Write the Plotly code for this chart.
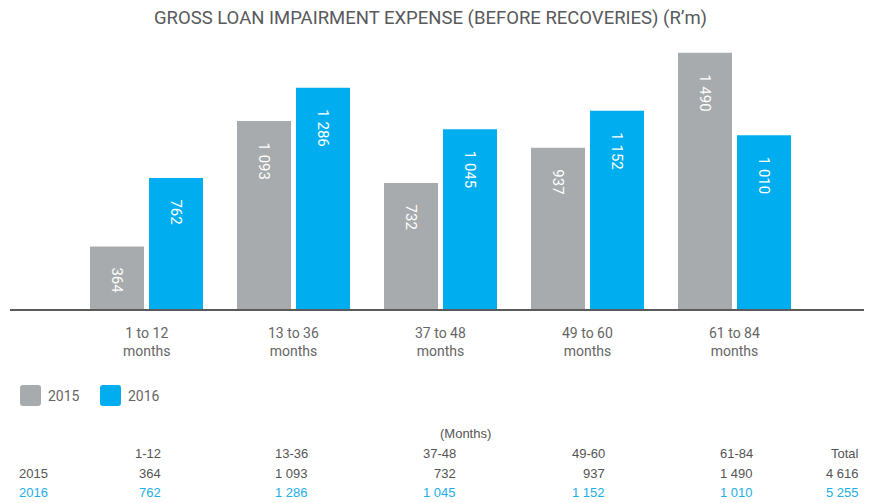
import plotly.graph_objects as go

# ---- data -------------------------------------------------------------
bucket_labels = ["1 to 12<br>months", "13 to 36<br>months", "37 to 48<br>months",
                 "49 to 60<br>months", "61 to 84<br>months"]
table_headers = ["1-12", "13-36", "37-48", "49-60", "61-84"]
years = ["2015", "2016"]
values_2015 = [364, 1093, 732, 937, 1490]
values_2016 = [762, 1286, 1045, 1152, 1010]

# ---- styling ----------------------------------------------------------
GREY = "#a7abad"
BLUE = "#00aeef"
BLUE_TEXT = "#22aee8"
W, H = 874, 503
M_L, M_R, M_T, M_B = 10, 10, 51, 194
PLOT_W = W - M_L - M_R
PLOT_H = H - M_T - M_B
LABEL_FONT = "Roboto, Arial, sans-serif"
TABLE_FONT = "Liberation Sans, Arial, sans-serif"


def fmt(v):
    """Thousands separated by a space, e.g. 1 093."""
    return f"{v:,}".replace(",", " ")


def px_x(p):
    return (p - M_L) / PLOT_W


def px_y(p):
    return (H - M_B - p) / PLOT_H


def rounded_rect(x0, y0, x1, y1, r):
    """Rounded rectangle path (pixel box) in paper coordinates."""
    pts = [
        ("M", [(x0 + r, y0)]), ("L", [(x1 - r, y0)]), ("Q", [(x1, y0), (x1, y0 + r)]),
        ("L", [(x1, y1 - r)]), ("Q", [(x1, y1), (x1 - r, y1)]), ("L", [(x0 + r, y1)]),
        ("Q", [(x0, y1), (x0, y1 - r)]), ("L", [(x0, y0 + r)]), ("Q", [(x0, y0), (x0 + r, y0)]),
    ]
    out = []
    for cmd, coords in pts:
        out.append(cmd + " ".join(f"{px_x(a):.5f},{px_y(b):.5f}" for a, b in coords))
    return " ".join(out) + " Z"


positions = list(range(len(bucket_labels)))

fig = go.Figure()
fig.add_trace(go.Bar(x=positions, y=values_2015, name=years[0],
                     marker=dict(color=GREY, line=dict(width=0)), hoverinfo="skip"))
fig.add_trace(go.Bar(x=positions, y=values_2016, name=years[1],
                     marker=dict(color=BLUE, line=dict(width=0)), hoverinfo="skip"))

annotations = []

# rotated value labels inside the top of each bar
for series, shift in ((values_2015, -29.5), (values_2016, 29.5)):
    for i, v in enumerate(series):
        annotations.append(dict(
            x=i, y=v, xref="x", yref="y", xshift=shift, yshift=-19,
            text=fmt(v), textangle=90, showarrow=False,
            xanchor="center", yanchor="top",
            font=dict(family=LABEL_FONT, size=15, color="white")))

# category labels under the axis
for i, lab in enumerate(bucket_labels):
    annotations.append(dict(
        x=i, y=0, xref="x", yref="y", yshift=-14, text=lab, showarrow=False,
        xanchor="center", yanchor="top", align="center",
        font=dict(family=LABEL_FONT, size=14, color="#666666")))

# legend
shapes = []
for (x0, color), year, tx in (((20, GREY), years[0], 46), ((100, BLUE), years[1], 126)):
    shapes.append(dict(type="path", xref="paper", yref="paper",
                       path=rounded_rect(x0, 385, x0 + 21, 406, 3),
                       fillcolor=color, line=dict(width=0)))
    annotations.append(dict(
        x=px_x(tx), y=px_y(395.5), xref="paper", yref="paper", text=year,
        showarrow=False, xanchor="left", yanchor="middle",
        font=dict(family=LABEL_FONT, size=14, color="#666666")))

# summary table below the legend
col_right = [162, 309, 457, 606, 754, 860]
row_y = {"head": 453, years[0]: 473, years[1]: 492}
annotations.append(dict(
    x=px_x(465.5), y=px_y(433), xref="paper", yref="paper", text="(Months)",
    showarrow=False, xanchor="center", yanchor="middle",
    font=dict(family=TABLE_FONT, size=13, color="#555555")))
for xr, head in zip(col_right, table_headers + ["Total"]):
    annotations.append(dict(
        x=px_x(xr + 1), y=px_y(row_y["head"]), xref="paper", yref="paper", text=head,
        showarrow=False, xanchor="right", yanchor="middle",
        font=dict(family=TABLE_FONT, size=13, color="#555555")))
for year, series, color in ((years[0], values_2015, "#555555"),
                            (years[1], values_2016, BLUE_TEXT)):
    annotations.append(dict(
        x=px_x(17), y=px_y(row_y[year]), xref="paper", yref="paper", text=year,
        showarrow=False, xanchor="left", yanchor="middle",
        font=dict(family=TABLE_FONT, size=13, color=color)))
    for xr, v in zip(col_right, series + [sum(series)]):
        annotations.append(dict(
            x=px_x(xr + 1), y=px_y(row_y[year]), xref="paper", yref="paper", text=fmt(v),
            showarrow=False, xanchor="right", yanchor="middle",
            font=dict(family=TABLE_FONT, size=13, color=color)))

group_px = 147.0
first_px = 146.5
fig.update_layout(
    width=W, height=H,
    margin=dict(l=M_L, r=M_R, t=M_T, b=M_B),
    paper_bgcolor="white", plot_bgcolor="white",
    barmode="group", bargap=0.197, bargroupgap=0.085,
    showlegend=False,
    title=dict(text="GROSS LOAN IMPAIRMENT EXPENSE (BEFORE RECOVERIES) (R’m)",
               x=430.5 / W, xref="container", xanchor="center",
               y=1 - 17.5 / H, yref="container", yanchor="middle",
               font=dict(family=LABEL_FONT, size=18.5, color="#58595b")),
    xaxis=dict(range=[(M_L - first_px) / group_px, (W - M_R - first_px) / group_px],
               showticklabels=False, ticks="", showgrid=False, zeroline=False,
               showline=True, linecolor="#5a5a5a", linewidth=1.5, fixedrange=True),
    yaxis=dict(range=[0, 1500], visible=False, showgrid=False, zeroline=False,
               fixedrange=True),
    annotations=annotations,
    shapes=shapes,
)

fig.write_html("out.html", config={"displayModeBar": False})
